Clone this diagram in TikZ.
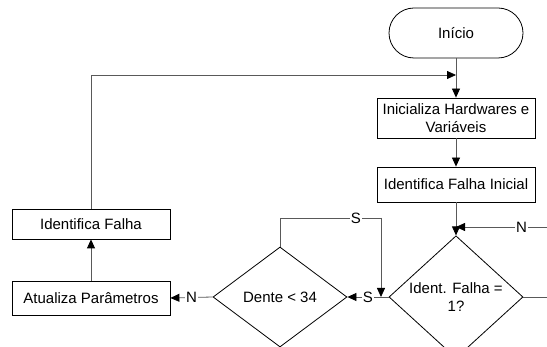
\documentclass[tikz,border=0pt]{standalone}
\usepackage{fontspec}
\setmainfont{Liberation Sans}
\usetikzlibrary{arrows.meta,shapes.geometric}
\begin{document}
\begin{tikzpicture}[x=1pt,y=-1pt,
  font=\fontsize{15}{18}\selectfont,
  line width=0.8pt,
  conn/.style={draw=black!65},
  arr/.style={conn,-{Triangle[length=9pt,width=8pt,color=black]}},
  procbox/.style={draw=black,rectangle,inner sep=0pt,align=center},
  decision/.style={draw=black,diamond,inner sep=0pt,minimum width=134pt,minimum height=100pt,align=center},
  lbl/.style={fill=white,inner sep=1pt}]
\clip (0,0) rectangle (547,347);
\fill[white] (0,0) rectangle (547,347);

% terminal
\node[draw=black,rounded corners=25pt,minimum width=134pt,minimum height=50pt,inner sep=0pt] (ini) at (456,33) {Início};

% process boxes
\node[procbox,minimum width=158pt,minimum height=40pt] (hw) at (456,118) {Inicializa Hardwares e\\Variáveis};
\node[procbox,minimum width=158pt,minimum height=35pt] (ifi) at (456,184.5) {Identifica Falha Inicial};
\node[procbox,minimum width=158pt,minimum height=30pt] (idf) at (91,224) {Identifica Falha};
\node[procbox,minimum width=158pt,minimum height=34pt] (atp) at (91,298) {Atualiza Parâmetros};

% decisions
\node[decision] (d1) at (456,297) {Ident. Falha =\\1?};
\node[decision] (d2) at (280,297) {Dente < 34};

% junction points
\coordinate (j1) at (456,75);
\coordinate (j2) at (456,227);
\coordinate (nIn) at (547,227);
\coordinate (yOut) at (547,297);
\coordinate (sTop) at (280,218);
\coordinate (sCorner) at (381,218);
\coordinate (sEnd) at (381,297);

% main flow
\draw[conn] (ini.south) -- (j1);
\draw[arr] (j1) -- (hw.north);
\draw[arr] (hw.south) -- (ifi.north);
\draw[conn] (ifi.south) -- (j2);
\draw[arr] (j2) -- (d1.north);
\draw[arr] (nIn) -- node[lbl,pos=0.28]{N} (j2);
\draw[conn] (d1.east) -- (yOut);

% Dente < 34 test
\draw[arr] (d1.west) -- node[lbl,pos=0.5]{S} (d2.east);
\draw[conn] (d2.north) -- (sTop) -- (sCorner) node[lbl,pos=0.75]{S};
\draw[arr] (sCorner) -- (sEnd);
\draw[arr] (d2.west) -- node[lbl,pos=0.5]{N} (atp.east);

% loop back
\draw[arr] (atp.north) -- (idf.south);
\draw[arr] (idf.north) |- (j1);
\end{tikzpicture}
\end{document}
